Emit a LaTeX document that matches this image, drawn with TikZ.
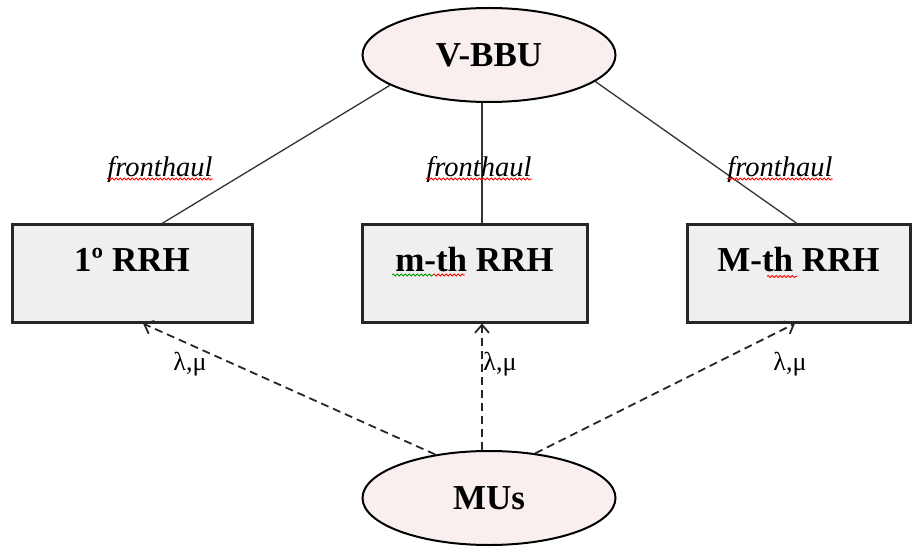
\documentclass[tikz,border=0pt]{standalone}
\usepackage{fontspec}
\setmainfont{Liberation Serif}
\usetikzlibrary{arrows.meta,decorations.pathmorphing,shapes.geometric}
\definecolor{ovalfill}{HTML}{F8EFEE}
\definecolor{boxfill}{HTML}{EFEFEF}
\definecolor{linegray}{HTML}{333333}
\tikzset{
  oval/.style={ellipse, draw=black, line width=2pt, fill=ovalfill,
    minimum width=253pt, minimum height=94pt, inner sep=0pt,
    font=\fontsize{35}{40}\selectfont\bfseries},
  unitbox/.style={rectangle, draw=black!85, line width=3pt, fill=boxfill,
    inner xsep=0pt, inner ysep=0pt, text height=47pt, text depth=50pt,
    font=\fontsize{35}{40}\selectfont\bfseries},
  fhlink/.style={draw=linegray, line width=1.3pt},
  radiolink/.style={draw=black!85, line width=1.8pt, dash pattern=on 8pt off 5pt,
    -{Straight Barb[length=8pt,width=14pt,line width=1.8pt]}},
  fhlabel/.style={anchor=base, inner sep=0pt, font=\fontsize{28.5}{32}\selectfont\itshape},
  ratelabel/.style={anchor=base, inner sep=0pt, font=\fontsize{26}{30}\selectfont},
  squiggle/.style={line width=0.8pt, decorate,
    decoration={snake, amplitude=1.1pt, segment length=4pt}}
}
\begin{document}
\begin{tikzpicture}[x=1pt,y=1pt]
\useasboundingbox (0,0) rectangle (913,547);

% central unit and mobile users
\node[oval] (vbbu) at (489,492) {V-BBU};
\node[oval] (mus)  at (489,49)  {MUs};

% remote radio heads
\node[unitbox, minimum width=240pt] (rrh1) at (132,273.5) {1º RRH};
\node[unitbox, minimum width=225pt] (rrhm) at (474.5,273.5) {m-th RRH};
\node[unitbox, minimum width=223pt] (rrhM) at (798.5,273.5) {M-th RRH};

% attachment points of the middle column
\coordinate (mtop) at ([xshift=7.5pt]rrhm.north);
\coordinate (mbot) at ([xshift=7.5pt]rrhm.south);

% fronthaul links
\draw[fhlink] (vbbu.197) -- ([xshift=30pt]rrh1.north);
\draw[fhlink] (mtop |- vbbu.south) -- (mtop);
\draw[fhlink] (vbbu.-14) -- ([xshift=-1.5pt]rrhM.north);

% radio access links
\draw[radiolink] (mus.141) -- ([xshift=11pt]rrh1.south);
\draw[radiolink] (mbot |- mus.north) -- (mbot);
\draw[radiolink] (mus.44) -- ([xshift=-3.5pt]rrhM.south);

% link labels
\node[fhlabel] (fh1) at (160,370.5) {fronthaul};
\node[fhlabel] (fhm) at (479,370.5) {fronthaul};
\node[fhlabel] (fhM) at (780,370.5) {fronthaul};
\node[ratelabel] (lm1) at (190,177) {λ,μ};
\node[ratelabel] (lmm) at (500,177) {λ,μ};
\node[ratelabel] (lmM) at (790,177) {λ,μ};

% proofing marks under words
\draw[squiggle, red] (107,368) -- (213,368);
\draw[squiggle, red] (426,368) -- (532,368);
\draw[squiggle, red] (727,368) -- (833,368);
\draw[squiggle, green!60!black] (392,272) -- (433,272);
\draw[squiggle, red] (433,272) -- (465,272);
\draw[squiggle, red] (767,270.5) -- (797,270.5);
\end{tikzpicture}
\end{document}
